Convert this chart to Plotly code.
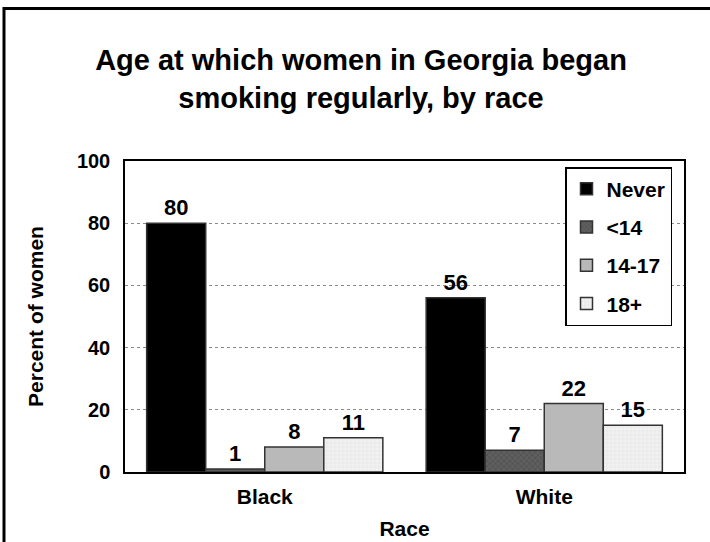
import plotly.graph_objects as go

categories = ["Black", "White"]
series_names = ["Never", "<14", "14-17", "18+"]
never = [80, 56]
under14 = [1, 7]
age14_17 = [8, 22]
age18plus = [11, 15]
y_ticks = [0, 20, 40, 60, 80, 100]

values = [never, under14, age14_17, age18plus]
fills = ["#000000", "#5f5f5f", "#b9b9b9", "#f2f2f2"]
pat_shapes = ["", "x", "", "+"]
pat_fg = ["#000000", "#3a3a3a", "#b9b9b9", "#d8d8d8"]

FONT = "Liberation Sans, Arial, sans-serif"

fig = go.Figure()
for i, (name, vals) in enumerate(zip(series_names, values)):
    fig.add_trace(go.Bar(
        x=categories, y=vals, name=f"<b>{name}</b>",
        legendgroup=name,
        text=[str(v) for v in vals], texttemplate="<b>%{text}</b>",
        textposition="outside",
        textfont=dict(family=FONT, size=22, color="#000000"),
        cliponaxis=False,
        marker=dict(
            color=fills[i],
            line=dict(color="#333333", width=1.5),
            pattern=dict(shape=pat_shapes[i], fgcolor=pat_fg[i], size=4, solidity=0.3),
        ),
    ))

W, H = 710, 542
L, R, T, B = 125, 26, 161, 70
pw, ph = W - L - R, H - T - B

def px_x(x):
    return (x - L) / pw

def px_y(y):
    return (H - B - y) / ph

fig.update_layout(
    width=W, height=H,
    margin=dict(l=L, r=R, t=T, b=B, autoexpand=False),
    paper_bgcolor="#ffffff", plot_bgcolor="#ffffff",
    barmode="group", bargap=0.155, bargroupgap=0,
    font=dict(family=FONT, color="#000000"),
    title=dict(
        text="<b>Age at which women in Georgia began<br>smoking regularly, by race</b>",
        x=361 / W, xref="container", xanchor="center",
        y=1 - 70 / H, yref="container", yanchor="middle",
        font=dict(family=FONT, size=29, color="#000000"),
    ),
    legend=dict(
        x=px_x(565), y=px_y(167), xanchor="left", yanchor="top",
        bordercolor="#000000", borderwidth=1.5, bgcolor="#ffffff",
        font=dict(family=FONT, size=21, color="#000000"),
        traceorder="grouped", tracegroupgap=8,
        itemwidth=30,
    ),
    showlegend=True,
    xaxis=dict(
        automargin=False,
        showline=True, linecolor="#000000", linewidth=1.5, mirror=True,
        tickfont=dict(family=FONT, size=21, color="#000000"),
        ticks="", ticklabelstandoff=5,
        title=dict(text="<b>Race</b>", font=dict(family=FONT, size=21, color="#000000"), standoff=14),
    ),
    yaxis=dict(
        automargin=False,
        range=[0, 100], tickvals=y_ticks,
        ticktext=[f"<b>{v}</b>" for v in y_ticks],
        showline=True, linecolor="#000000", linewidth=1.5, mirror=True,
        showgrid=True, gridcolor="#8a8a8a", griddash="dot", gridwidth=1,
        zeroline=False,
        tickfont=dict(family=FONT, size=20, color="#000000"),
        ticks="", ticklabelstandoff=9,
        title=dict(text="<b>Percent of women</b>", font=dict(family=FONT, size=21, color="#000000"), standoff=28),
    ),
)
fig.update_xaxes(ticktext=[f"<b>{c}</b>" for c in categories], tickvals=categories)

# outer frame of the slide
fig.add_shape(type="rect", xref="paper", yref="paper",
              x0=px_x(4), x1=px_x(740), y0=px_y(580), y1=px_y(8.5),
              line=dict(color="#000000", width=3), fillcolor="rgba(0,0,0,0)", layer="below")

fig.write_html("out.html")
